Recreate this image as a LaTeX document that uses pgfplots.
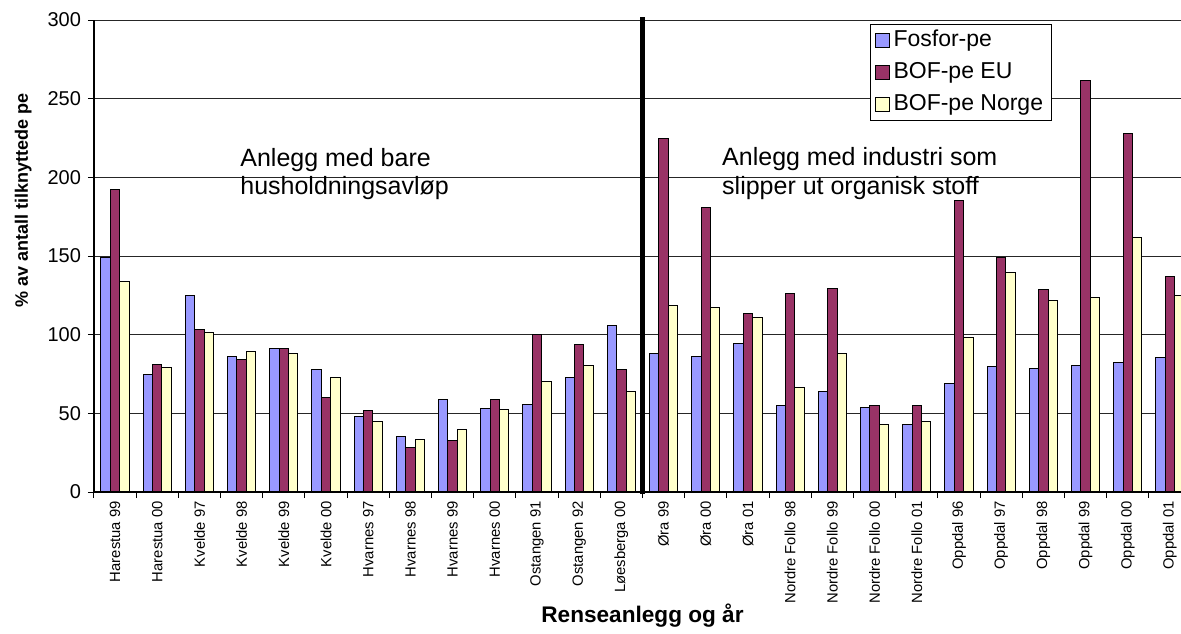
\documentclass[border=0pt]{standalone}
\usepackage{fontspec}
\setmainfont{Liberation Sans}
\usepackage{pgfplots}
\usepackage{pgfplotstable}
\pgfplotsset{compat=1.18}
\definecolor{cblue}{HTML}{9999FF}
\definecolor{cred}{HTML}{993366}
\definecolor{cyel}{HTML}{FFFFCC}
\pgfplotstableread{
x fos eu no
0 149 192 134
1 75 81 79
2 125 103 101.5
3 86 84.5 89
4 91.5 91.5 88
5 78 60 72.5
6 48 51.5 45
7 35 28 33.5
8 58.5 33 40
9 53 58.5 52.5
10 55.5 100 70.5
11 72.5 94 80.5
12 106 78 64
13 88 224.5 118.5
14 86 181 117.5
15 94.5 113.5 111
16 55 126 66.5
17 64 129.5 88
18 54 55 43
19 43 55 45
20 69 185 98
21 79.5 149 139.5
22 78.5 128.5 122
23 80.5 261.5 123.5
24 82 228 161.5
25 85.5 137 125
}\datatab
\begin{document}
\begin{tikzpicture}
\begin{axis}[name=ax,
  scale only axis, width=548.5pt, height=236pt,
  ybar=0pt, bar width=4.7pt,
  xmin=-0.5, xmax=25.5, ymin=0, ymax=300,
  clip=false,
  ytick={0,50,...,300},
  xtick={-0.5,0.5,...,25.5}, xticklabels={},
  extra x ticks={0,1,...,25},
  extra x tick labels={Harestua 99,Harestua 00,Kvelde 97,Kvelde 98,Kvelde 99,Kvelde 00,Hvarnes 97,Hvarnes 98,Hvarnes 99,Hvarnes 00,Ostangen 91,Ostangen 92,Løesberga 00,Øra 99,Øra 00,Øra 01,Nordre Follo 98,Nordre Follo 99,Nordre Follo 00,Nordre Follo 01,Oppdal 96,Oppdal 97,Oppdal 98,Oppdal 99,Oppdal 00,Oppdal 01},
  extra x tick style={tick style={draw=none}, grid=none},
  xticklabel style={rotate=90, anchor=east, inner sep=1.5pt, font=\fontsize{7.4}{8}\selectfont},
  yticklabel style={font=\fontsize{10}{11}\selectfont},
  /pgf/number format/assume math mode=true,
  axis line style={draw=none},
  tick pos=left,
  tick align=outside, major tick length=3pt,
  tick style={black, line width=0.5pt},
  ymajorgrids, grid style={black!85, line width=0.5pt},
  ylabel={\% av antall tilknyttede pe},
  ylabel style={at={(axis description cs:-0.0602,0.376)}, anchor=base west, font=\bfseries\fontsize{9}{10}\selectfont},
  xlabel={Renseanlegg og år},
  xlabel style={at={(axis description cs:0.5,-0.2775)}, anchor=base, font=\bfseries\fontsize{11.3}{13}\selectfont},
  legend style={at={(axis description cs:0.7074,0.9915)}, anchor=north west, draw=black, line width=0.5pt,
    font=\fontsize{11.5}{13}\selectfont, inner xsep=2pt, inner ysep=0.5pt, row sep=0.5pt,
    cells={anchor=west}, nodes={inner sep=2pt, text height=8.7pt, text depth=2.6pt}},
  legend image code/.code={\draw[#1, draw=black, line width=0.5pt] (0pt,-3.5pt) rectangle (7pt,3.5pt);},
]
\addplot[fill=cblue, draw=black, line width=0.5pt] table[x=x,y=fos]{\datatab};
\addplot[fill=cred, draw=black, line width=0.5pt] table[x=x,y=eu]{\datatab};
\addplot[fill=cyel, draw=black, line width=0.5pt] table[x=x,y=no]{\datatab};
\legend{Fosfor-pe,BOF-pe EU,BOF-pe Norge}
\draw[line width=0.75pt, black] (axis cs:-0.5,300) -- (axis cs:-0.5,0) -- (axis cs:25.5,0);
\draw[line width=2.4pt, black] (axis cs:12.5,-1) -- (axis cs:12.5,302);
\node[anchor=base west, font=\fontsize{12.5}{14}\selectfont, inner sep=0pt] at (axis cs:2.96,206.9) {Anlegg med bare};
\node[anchor=base west, font=\fontsize{12.5}{14}\selectfont, inner sep=0pt] at (axis cs:2.96,188.8) {husholdningsavløp};
\node[anchor=base west, font=\fontsize{12.5}{14}\selectfont, inner sep=0pt] at (axis cs:14.38,207.4) {Anlegg med industri som};
\node[anchor=base west, font=\fontsize{12.5}{14}\selectfont, inner sep=0pt] at (axis cs:14.38,188.8) {slipper ut organisk stoff};
\end{axis}
\pgfresetboundingbox
\path[use as bounding box] ([xshift=-47pt,yshift=-70.5pt]ax.south west) rectangle ++(590.5pt,316.5pt);
\end{tikzpicture}
\end{document}
